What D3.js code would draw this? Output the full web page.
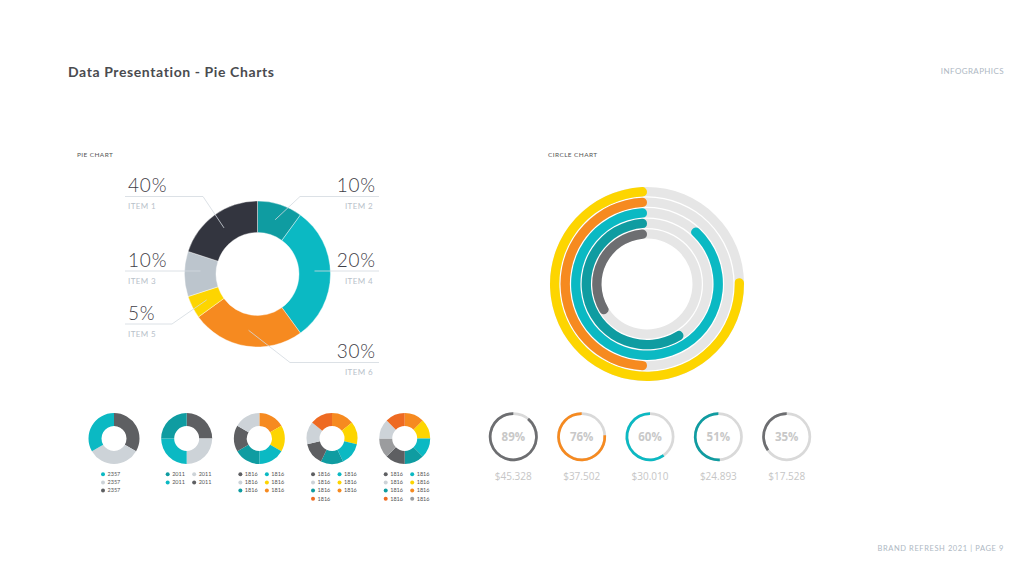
<!DOCTYPE html>
<html>
<head>
<meta charset="utf-8">
<script src="https://cdn.jsdelivr.net/npm/d3@7"></script>
<style>
  html, body { margin: 0; padding: 0; background: #fff; }
  svg { display: block; }
</style>
</head>
<body>
<script>
// main pie, clockwise from 12 o'clock
const mainItems = ["ITEM 2", "ITEM 4", "ITEM 6", "ITEM 5", "ITEM 3", "ITEM 1"];
const mainLabels = ["10%", "20%", "30%", "5%", "10%", "40%"];
const mainShares = [10, 30, 25, 5, 10, 20];
const mainColors = ["#0f9ca1", "#0bb9c3", "#f68a20", "#fdd500", "#bcc5cd", "#33353f"];

// circle chart, outer ring first
const ringNames = ["yellow", "orange", "teal", "dteal", "dgray"];
const ringValues = [76, 50, 89, 60, 35];

// small gauges
const gaugeNames = ["dgray", "orange", "teal", "dteal", "dgray"];
const gaugeValues = [89, 76, 60, 51, 35];
const gaugeAmounts = ["$45.328", "$37.502", "$30.010", "$24.893", "$17.528"];

// mini donuts
const miniSlices = [
  [1, 1, 1],
  [1, 1, 1, 1],
  [1, 1, 1, 1, 1, 1],
  [1, 1, 1, 1, 1, 1, 1],
  [1, 1, 1, 1, 1, 1, 1, 1]
];
const miniSliceKeys = [
  ["dgray", "lgray", "teal"],
  ["dgray", "lgray", "teal", "dteal"],
  ["orange", "yellow", "teal", "dteal", "dgray", "lgray"],
  ["orange", "yellow", "teal", "dteal", "dgray", "lgray", "red"],
  ["orange", "yellow", "teal", "dteal", "dgray", "mgray", "lgray", "red"]
];
const miniLegendCols = [
  [["teal", "lgray", "dgray"]],
  [["dteal", "teal"], ["lgray", "dgray"]],
  [["dgray", "lgray", "dteal"], ["teal", "yellow", "orange"]],
  [["dgray", "lgray", "dteal", "red"], ["teal", "yellow", "orange"]],
  [["dgray", "lgray", "dteal", "red"], ["teal", "yellow", "orange", "mgray"]]
];
const miniLegendText = ["2357", "2011", "1816", "1816", "1816"];

const width = 1024;
const height = 576;

const color = d3.scaleOrdinal()
  .domain(["dgray", "lgray", "mgray", "teal", "dteal", "yellow", "orange", "red"])
  .range(["#5e5f62", "#cdd3d8", "#9b9c9e", "#0bb9c3", "#0f9ca1", "#fdd500", "#f68a20", "#ee6a22"]);

const svg = d3.select("body")
  .append("svg")
  .attr("width", width)
  .attr("height", height)
  .style("font-family", "Lato, sans-serif");

svg.append("rect").attr("width", width).attr("height", height).attr("fill", "#fff");

// header / footer
svg.append("text")
  .attr("x", 68).attr("y", 77)
  .attr("font-size", 14).attr("font-weight", 700)
  .attr("letter-spacing", 0.6)
  .attr("fill", "#4a4b4f")
  .text("Data Presentation - Pie Charts");

svg.append("text")
  .attr("x", 1004).attr("y", 74)
  .attr("text-anchor", "end")
  .attr("font-size", 8).attr("letter-spacing", 0.4)
  .attr("fill", "#aeb8c3")
  .text("INFOGRAPHICS");

svg.append("text")
  .attr("x", 1004).attr("y", 551)
  .attr("text-anchor", "end")
  .attr("font-size", 7.5).attr("letter-spacing", 0.6)
  .attr("fill", "#aeb8c3")
  .text("BRAND REFRESH 2021 | PAGE 9");

svg.append("text")
  .attr("x", 77).attr("y", 157)
  .attr("font-size", 6.5).attr("letter-spacing", 0.4)
  .attr("fill", "#555")
  .text("PIE CHART");

svg.append("text")
  .attr("x", 548).attr("y", 157)
  .attr("font-size", 6.5).attr("letter-spacing", 0.4)
  .attr("fill", "#555")
  .text("CIRCLE CHART");

// ---------- main pie ----------
const pieC = [257.5, 274];
const pieOuter = 73, pieInner = 41.5;

const mainPie = d3.pie().sort(null).value((d) => d)(mainShares);
const mainArc = d3.arc().innerRadius(pieInner).outerRadius(pieOuter);
const anchorArc = d3.arc().innerRadius(55).outerRadius(59);

const pieG = svg.append("g").attr("transform", `translate(${pieC[0]},${pieC[1]})`);

pieG.selectAll("path")
  .data(mainPie)
  .join("path")
  .attr("d", mainArc)
  .attr("fill", (d, i) => mainColors[i])
  .attr("stroke", "#fff")
  .attr("stroke-width", 0.4);

// label layout: side, percent baseline, elbow x (null = straight)
const labelLayout = [
  { side: "right", y: 192, elbow: 300 },
  { side: "right", y: 266.5, elbow: null },
  { side: "right", y: 358, elbow: 290 },
  { side: "left", y: 319.5, elbow: 172 },
  { side: "left", y: 266.5, elbow: null },
  { side: "left", y: 192, elbow: 203 }
];

const labelG = svg.append("g");
mainPie.forEach((d, i) => {
  const L = labelLayout[i];
  const c = anchorArc.centroid(d);
  const tip = [pieC[0] + c[0], pieC[1] + c[1]];
  const lineY = L.y + 4.5;
  const x0 = L.side === "left" ? 125 : 379;
  const pts = L.elbow === null
    ? [[x0, lineY], [tip[0], lineY]]
    : [[x0, lineY], [L.elbow, lineY], tip];
  labelG.append("path")
    .attr("d", d3.line()(pts))
    .attr("fill", "none")
    .attr("stroke", "#d3d9df")
    .attr("stroke-width", 0.8);

  const tx = L.side === "left" ? 128 : 376;
  const anchor = L.side === "left" ? "start" : "end";
  labelG.append("text")
    .attr("x", tx).attr("y", L.y)
    .attr("text-anchor", anchor)
    .attr("font-size", 19).attr("font-weight", 300)
    .attr("letter-spacing", 0.8)
    .attr("fill", "#3f4048")
    .text(mainLabels[i]);
  labelG.append("text")
    .attr("x", L.side === "left" ? tx : tx - 3).attr("y", L.y + 17)
    .attr("text-anchor", anchor)
    .attr("font-size", 8).attr("letter-spacing", 0.4)
    .attr("fill", "#b8c1ca")
    .text(mainItems[i]);
});

// ---------- circle chart ----------
const ringC = [647, 284];
const ringBand = d3.scaleBand()
  .domain(d3.range(ringValues.length).reverse())
  .range([45.5, 97])
  .paddingInner(0.12);
const ringAngle = d3.scaleLinear().domain([0, 100]).range([0, -2 * Math.PI]);

const ringG = svg.append("g").attr("transform", `translate(${ringC[0]},${ringC[1]})`);
const ringArc = d3.arc()
  .innerRadius((d) => ringBand(d.i))
  .outerRadius((d) => ringBand(d.i) + ringBand.bandwidth())
  .startAngle(0)
  .endAngle((d) => ringAngle(d.v))
  .cornerRadius(ringBand.bandwidth() / 2);

const ringData = ringValues.map((v, i) => ({ v, i, name: ringNames[i] }));

ringG.selectAll(".track")
  .data(ringData)
  .join("path")
  .attr("class", "track")
  .attr("d", (d) => ringArc({ ...d, v: 100 }))
  .attr("fill", "#e6e6e6");

ringG.selectAll(".bar")
  .data(ringData)
  .join("path")
  .attr("class", "bar")
  .attr("d", ringArc)
  .attr("fill", (d) => d.name === "dgray" ? "#6d6e71" : color(d.name));

// ---------- gauges ----------
const gaugeX = d3.scalePoint()
  .domain(d3.range(gaugeValues.length))
  .range([513.3, 786.7]);
const gaugeY = 436.7;
const gaugeArc = d3.arc().innerRadius(21.8).outerRadius(24.5).startAngle(0);

const gauges = svg.append("g")
  .selectAll("g")
  .data(gaugeValues)
  .join("g")
  .attr("transform", (d, i) => `translate(${gaugeX(i)},${gaugeY})`);

gauges.append("path")
  .attr("d", gaugeArc({ endAngle: 2 * Math.PI }))
  .attr("fill", "#d9d9d9");
gauges.append("path")
  .attr("d", (d) => gaugeArc({ endAngle: ringAngle(d) }))
  .attr("fill", (d, i) => gaugeNames[i] === "dgray" ? "#6d6e71" : color(gaugeNames[i]));
gauges.append("text")
  .attr("y", 4.2)
  .attr("text-anchor", "middle")
  .attr("font-family", "'Open Sans', sans-serif")
  .attr("font-size", 11.5).attr("font-weight", 700)
  .attr("fill", "#c8c8c8")
  .text((d) => d + "%");
gauges.append("text")
  .attr("y", 43.5)
  .attr("text-anchor", "middle")
  .attr("font-family", "'Open Sans', sans-serif")
  .attr("font-size", 10)
  .attr("fill", "#c6c6c6")
  .text((d, i) => gaugeAmounts[i]);

// ---------- mini donuts ----------
const miniX = d3.scalePoint()
  .domain(d3.range(miniSlices.length))
  .range([114, 404.7]);
const miniY = 438.5;
const miniArc = d3.arc().innerRadius(12.5).outerRadius(25.5);
const miniPie = d3.pie().sort(null).value((d) => d);

miniSlices.forEach((vals, k) => {
  const g = svg.append("g").attr("transform", `translate(${miniX(k)},${miniY})`);
  g.selectAll("path")
    .data(miniPie(vals))
    .join("path")
    .attr("d", miniArc)
    .attr("fill", (d, i) => color(miniSliceKeys[k][i]));

  const cols = miniLegendCols[k];
  const colX = cols.length === 1 ? [-11] : [-19, 7.5];
  cols.forEach((col, ci) => {
    col.forEach((key, ri) => {
      const y = 37.5 + ri * 8.2;
      g.append("circle")
        .attr("cx", colX[ci]).attr("cy", y - 1.8)
        .attr("r", 2)
        .attr("fill", color(key));
      g.append("text")
        .attr("x", colX[ci] + 4.5).attr("y", y)
        .attr("font-size", 5.5)
        .attr("fill", "#555")
        .text(miniLegendText[k]);
    });
  });
});
</script>
</body>
</html>
